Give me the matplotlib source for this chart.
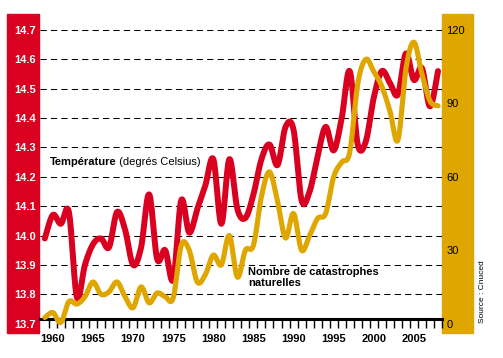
import matplotlib
matplotlib.use("Agg")
import matplotlib.pyplot as plt
import numpy as np
from matplotlib.patches import Rectangle

plt.rcParams["font.family"] = ["Liberation Sans", "DejaVu Sans"]

# data
years = list(range(1959, 2009))
temperature = [
    13.99, 14.07, 14.04, 14.08, 13.79, 13.90, 13.97, 13.99, 13.96, 14.08,
    14.02, 13.90, 13.96, 14.14, 13.92, 13.95, 13.85, 14.12, 14.01, 14.09,
    14.17, 14.26, 14.04, 14.26, 14.09, 14.06, 14.14, 14.26, 14.31, 14.24,
    14.37, 14.36, 14.12, 14.15, 14.27, 14.37, 14.29, 14.40, 14.56, 14.31,
    14.32, 14.47, 14.56, 14.52, 14.48, 14.62, 14.53, 14.57, 14.44, 14.56,
]
catastrophes = [
    2.5, 4.5, 0.5, 9, 8, 11, 17, 12, 13, 17,
    11, 6.5, 15, 8.5, 12.5, 11, 10.5, 32, 30, 17,
    20, 28, 24, 36, 19, 30, 32, 52, 62, 50,
    35, 45, 30, 36, 43, 45, 60, 66, 70, 98,
    108, 103, 97, 87, 75, 104, 115, 102, 91, 89,
]
temp_ticks = [13.7, 13.8, 13.9, 14.0, 14.1, 14.2, 14.3, 14.4, 14.5, 14.6, 14.7]
count_ticks = [0, 30, 60, 90, 120]
year_labels = [1960, 1965, 1970, 1975, 1980, 1985, 1990, 1995, 2000, 2005]

RED = "#DA0020"
GOLD = "#DFA600"
W, H = 503, 358


def smooth(x, y, steps=16):
    """Catmull-Rom curve through the points, for drawing only."""
    x = np.asarray(x, float)
    y = np.asarray(y, float)
    px = np.r_[x[0], x, x[-1]]
    py = np.r_[y[0], y, y[-1]]
    t = np.linspace(0, 1, steps, endpoint=False)[:, None]
    out_x, out_y = [], []
    for i in range(1, len(px) - 2):
        for arr, out in ((px, out_x), (py, out_y)):
            p0, p1, p2, p3 = arr[i - 1], arr[i], arr[i + 1], arr[i + 2]
            v = 0.5 * (2 * p1 + (-p0 + p2) * t + (2 * p0 - 5 * p1 + 4 * p2 - p3) * t ** 2
                       + (-p0 + 3 * p1 - 3 * p2 + p3) * t ** 3)
            out.extend(v.ravel())
    out_x.append(x[-1])
    out_y.append(y[-1])
    return np.array(out_x), np.array(out_y)


fig = plt.figure(figsize=(W / 100, H / 100), dpi=100)

# coloured bands behind the axis labels
fig.add_artist(Rectangle((7 / W, 25 / H), 32 / W, 319 / H, transform=fig.transFigure,
                         color=RED, zorder=-5))
fig.add_artist(Rectangle((442 / W, 25 / H), 31 / W, 319 / H, transform=fig.transFigure,
                         color=GOLD, zorder=-5))

ax = fig.add_axes([40 / W, 25 / H, 402 / W, 319 / H])
ax.set_facecolor("none")
ax2 = ax.twinx()

y_lo, y_hi = 13.668, 14.7545
ax.set_xlim(1958.4, 2008.5)
ax.set_ylim(y_lo, y_hi)
ax2.set_ylim((y_lo - 13.7) * 120, (y_hi - 13.7) * 120)

for v in temp_ticks[1:]:
    ax.axhline(v, color="black", lw=0.75, ls=(0, (6, 4)), zorder=1)

sx, sy = smooth(years, temperature)
ax.plot(sx, sy, color=RED, lw=4.3, solid_capstyle="round", solid_joinstyle="round", zorder=3)
gx, gy = smooth(years, catastrophes)
ax2.plot(gx, gy, color=GOLD, lw=3.7, solid_capstyle="round", solid_joinstyle="round", zorder=3)

for a in (ax, ax2):
    for s in a.spines.values():
        s.set_visible(False)
ax.spines["bottom"].set_visible(True)
ax.spines["bottom"].set_position(("data", 13.715))
ax.spines["bottom"].set_linewidth(2.2)

# year ticks sit between years, labels sit on the year
ax.set_xticks(np.arange(1959.5, 2009, 1))
ax.tick_params(axis="x", which="major", direction="out", length=6.5, width=1,
               color="black", labelbottom=False)
ax.set_xticks(year_labels, minor=True)
ax.set_xticklabels([str(y) for y in year_labels], minor=True, fontweight="bold")
ax.tick_params(axis="x", which="minor", length=0, pad=10.5, labelsize=8)

ax.set_yticks(temp_ticks)
ax.set_yticklabels([f"{v:.1f}" for v in temp_ticks], fontweight="bold")
ax.tick_params(axis="y", length=0, pad=3, labelsize=8, labelcolor="white")

ax2.set_yticks(count_ticks)
ax2.set_yticklabels([str(v) for v in count_ticks])
ax2.tick_params(axis="y", length=0, pad=3, labelsize=8, labelcolor="black")

t1 = ax.text(1959.6, 14.25, "Température", fontsize=8, fontweight="bold",
             va="center", ha="left", zorder=4)
ax.annotate(" (degrés Celsius)", xy=(1, 0), xycoords=t1, fontsize=8,
            va="bottom", ha="left")
ax.text(1984.3, 13.856, "Nombre de catastrophes\nnaturelles", fontsize=8,
        fontweight="bold", va="center", ha="left", linespacing=1.15, zorder=4)

fig.text(483 / W, 1 - 292 / H, "Source : Cnuced", rotation=90, fontsize=6,
         ha="center", va="center")

fig.savefig("out.png", dpi=100)
